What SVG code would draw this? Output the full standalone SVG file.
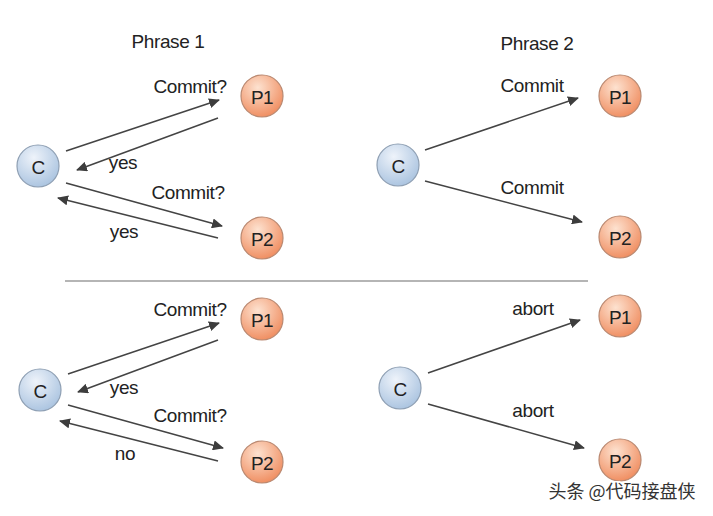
<svg xmlns="http://www.w3.org/2000/svg" width="713" height="516" viewBox="0 0 713 516">
<defs>
<radialGradient id="gc" cx="0.4" cy="0.3" r="0.75">
<stop offset="0" stop-color="#eef3fa"/>
<stop offset="1" stop-color="#a8c2df"/>
</radialGradient>
<radialGradient id="gp" cx="0.4" cy="0.3" r="0.75">
<stop offset="0" stop-color="#fde2d0"/>
<stop offset="1" stop-color="#ef8a5c"/>
</radialGradient>
<marker id="ah" viewBox="0 0 11 10" refX="10" refY="5" markerWidth="11" markerHeight="10" markerUnits="userSpaceOnUse" orient="auto">
<path d="M0,0 L11,5 L0,10 z" fill="#3d3d3d"/>
</marker>
<style>
.c{fill:url(#gc);stroke:#8e9fb3;stroke-width:1.2}
.p{fill:url(#gp);stroke:#b98870;stroke-width:1.2}
.nt{font-family:"Liberation Sans",Arial,sans-serif;font-size:19px;fill:#222;text-anchor:middle;dominant-baseline:central;letter-spacing:-0.5px}
.lb{font-family:"Liberation Sans",Arial,sans-serif;font-size:19px;fill:#222;text-anchor:middle;letter-spacing:-0.4px}
.ln{stroke:#444;stroke-width:1.5;fill:none;marker-end:url(#ah)}
</style>
</defs>
<rect width="713" height="516" fill="#ffffff"/>
<text class="lb" x="168" y="48">Phrase 1</text>
<text class="lb" x="537" y="50">Phrase 2</text>
<line x1="65" y1="281" x2="588" y2="281" stroke="#b5b5b5" stroke-width="2"/>
<g id="connectors">
<line class="ln" x1="66" y1="151" x2="219" y2="100"/>
<line class="ln" x1="218" y1="118" x2="77" y2="170"/>
<line class="ln" x1="66" y1="183" x2="222" y2="226"/>
<line class="ln" x1="218" y1="238" x2="58" y2="198"/>
<line class="ln" x1="425" y1="150" x2="578" y2="98"/>
<line class="ln" x1="425" y1="181" x2="582" y2="222"/>
<line class="ln" x1="68" y1="374" x2="219" y2="323"/>
<line class="ln" x1="218" y1="340" x2="78" y2="392"/>
<line class="ln" x1="68" y1="405" x2="223" y2="448"/>
<line class="ln" x1="218" y1="461" x2="60" y2="421"/>
<line class="ln" x1="428" y1="373" x2="580" y2="320"/>
<line class="ln" x1="428" y1="404" x2="584" y2="448"/>
</g>
<g id="labels">
<text class="lb" x="190" y="93">Commit?</text>
<text class="lb" x="123" y="169">yes</text>
<text class="lb" x="188" y="199">Commit?</text>
<text class="lb" x="124" y="238">yes</text>
<text class="lb" x="532" y="92">Commit</text>
<text class="lb" x="532" y="194">Commit</text>
<text class="lb" x="190" y="316">Commit?</text>
<text class="lb" x="124" y="394">yes</text>
<text class="lb" x="190" y="422">Commit?</text>
<text class="lb" x="125" y="460">no</text>
<text class="lb" x="533" y="315">abort</text>
<text class="lb" x="533" y="417">abort</text>
</g>
<g id="tl-C"><circle class="c" cx="38" cy="166" r="21"/><text class="nt" x="38" y="167">C</text></g>
<g id="tl-P1"><circle class="p" cx="262" cy="96" r="21"/><text class="nt" x="262" y="97">P1</text></g>
<g id="tl-P2"><circle class="p" cx="262" cy="238" r="21"/><text class="nt" x="262" y="239">P2</text></g>
<g id="tr-C"><circle class="c" cx="398" cy="165" r="21"/><text class="nt" x="398" y="166">C</text></g>
<g id="tr-P1"><circle class="p" cx="620" cy="96" r="21"/><text class="nt" x="620" y="97">P1</text></g>
<g id="tr-P2"><circle class="p" cx="620" cy="237" r="21"/><text class="nt" x="620" y="238">P2</text></g>
<g id="bl-C"><circle class="c" cx="40" cy="390" r="21"/><text class="nt" x="40" y="391">C</text></g>
<g id="bl-P1"><circle class="p" cx="262" cy="319" r="21"/><text class="nt" x="262" y="320">P1</text></g>
<g id="bl-P2"><circle class="p" cx="262" cy="462" r="21"/><text class="nt" x="262" y="463">P2</text></g>
<g id="br-C"><circle class="c" cx="400" cy="388" r="21"/><text class="nt" x="400" y="389">C</text></g>
<g id="br-P1"><circle class="p" cx="620" cy="316" r="21"/><text class="nt" x="620" y="317">P1</text></g>
<g id="br-P2"><circle class="p" cx="620" cy="460" r="21"/><text class="nt" x="620" y="461">P2</text></g>
<text x="622" y="498" font-family="'Noto Sans CJK SC',sans-serif" font-size="18" fill="#333" text-anchor="middle" stroke="#ffffff" stroke-width="3" paint-order="stroke">头条 @代码接盘侠</text>
</svg>
